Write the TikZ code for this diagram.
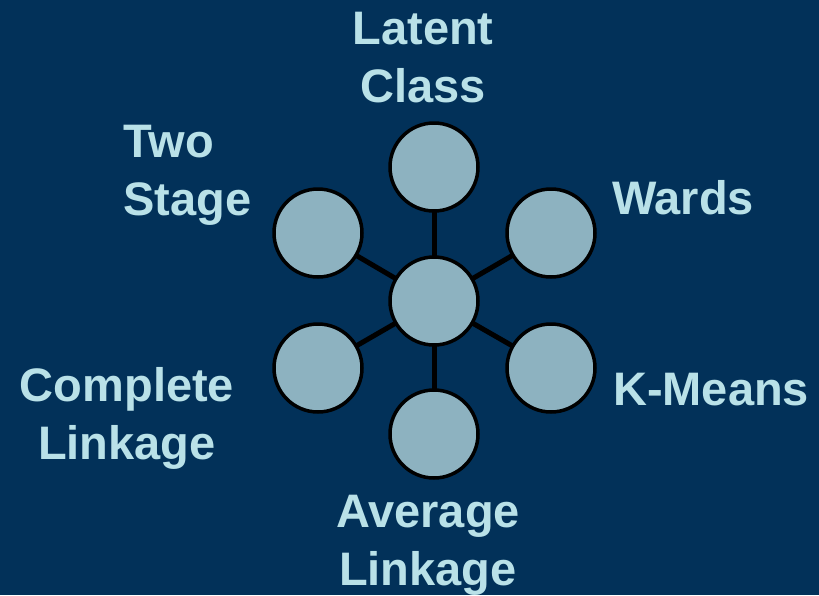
\documentclass[tikz,border=0pt]{standalone}
\usepackage{fontspec}
\setmainfont{Liberation Sans}
\usetikzlibrary{backgrounds}
\definecolor{slidebg}{HTML}{023159}
\definecolor{discfill}{HTML}{8DB2C0}
\definecolor{labeltext}{HTML}{B9E1E8}
\begin{document}
\begin{tikzpicture}[x=1pt,y=-1pt,
  disc/.style={circle, draw=black, line width=3.5pt, fill=discfill,
               minimum size=88pt, inner sep=0pt},
  spoke/.style={draw=black, line width=5pt},
  lbl/.style={text=labeltext, inner sep=0pt,
              font=\bfseries\fontsize{47}{58}\selectfont}]
  \useasboundingbox (0,0) rectangle (819,595);

  % hub and the six method discs
  \node[disc] (hub)  at (434,301) {};
  \node[disc] (top)  at (434,167) {};
  \node[disc] (tl)   at (318,233) {};
  \node[disc] (tr)   at (551,233) {};
  \node[disc] (bl)   at (318,368) {};
  \node[disc] (br)   at (551,368) {};
  \node[disc] (bot)  at (434,434) {};

  % backdrop and spokes behind the discs
  \begin{pgfonlayer}{background}
    \fill[slidebg] (0,0) rectangle (819,595);
    \foreach \n in {top,tl,tr,bl,br,bot}
      \draw[spoke] (hub.center) -- (\n.center);
  \end{pgfonlayer}

  % method names (base anchor sits on the last line)
  \node[lbl, anchor=base, align=center] (latent) at (423,102) {Latent\\Class};
  \node[lbl, anchor=base west, align=left] (twostage) at (123,215) {Two\\Stage};
  \node[lbl, anchor=base west] (wards) at (612,214) {Wards};
  \node[lbl, anchor=base, align=center] (complete) at (127,459) {Complete\\Linkage};
  \node[lbl, anchor=base west] (kmeans) at (613,405) {K-Means};
  \node[lbl, anchor=base, align=center] (average) at (428,585) {Average\\Linkage};
\end{tikzpicture}
\end{document}
